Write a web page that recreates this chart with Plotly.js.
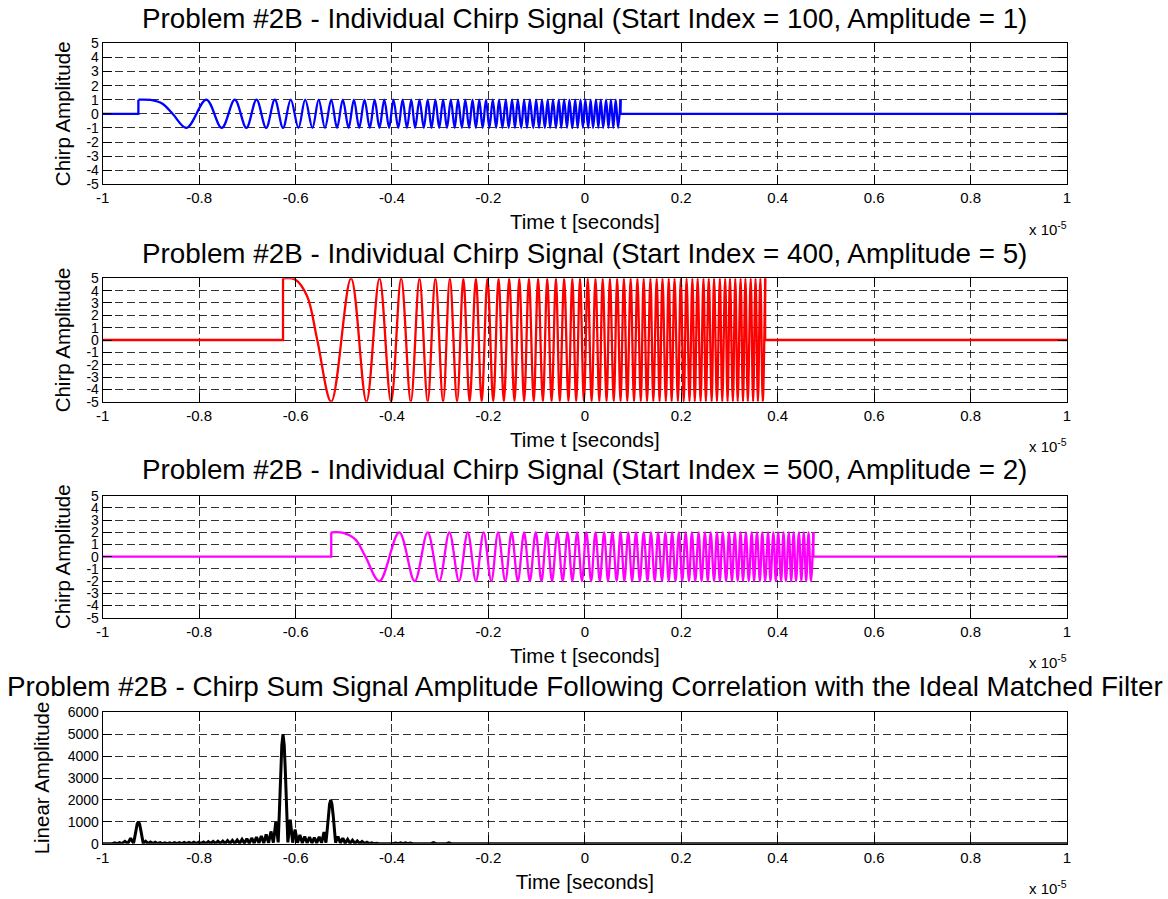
<!DOCTYPE html>
<html>
<head>
<meta charset="utf-8">
<script src="https://cdn.plot.ly/plotly-3.0.1.min.js"></script>
<style>html,body{margin:0;padding:0;background:#fff;}#plot{width:1168px;height:899px;}</style>
</head>
<body>
<div id="plot"></div>
<script>
// ---------- data ----------
const startIndex = [100, 400, 500];
const chirpStart = [-0.926, -0.626, -0.526];   // x 1e-5 s
const chirpAmp = [1, 5, 2];

// time offsets (from chirp start, x 1e-5 s) of the chirp's shape points: start plateau, then successive peaks/troughs
const chirpOffsets = [
  0, 0.025, 0.05, 0.071,
  0.1, 0.141, 0.173, 0.2, 0.224, 0.245, 0.265, 0.283, 0.3, 0.316,
  0.332, 0.346, 0.361, 0.374, 0.387, 0.4, 0.412, 0.424, 0.436, 0.447,
  0.458, 0.469, 0.480, 0.490, 0.5, 0.510, 0.520, 0.529, 0.539, 0.548,
  0.557, 0.566, 0.574, 0.583, 0.592, 0.6, 0.608, 0.616, 0.624, 0.632,
  0.640, 0.648, 0.656, 0.663, 0.671, 0.678, 0.686, 0.693, 0.7, 0.707,
  0.714, 0.721, 0.728, 0.735, 0.742, 0.748, 0.755, 0.762, 0.768, 0.775,
  0.781, 0.787, 0.794, 0.8, 0.806, 0.812, 0.819, 0.825, 0.831, 0.837,
  0.843, 0.849, 0.854, 0.860, 0.866, 0.872, 0.877, 0.883, 0.889, 0.894,
  0.9, 0.906, 0.911, 0.917, 0.922, 0.927, 0.933, 0.938, 0.943, 0.949,
  0.954, 0.959, 0.964, 0.970, 0.975, 0.980, 0.985, 0.990, 0.995, 1.0
];
// normalised chirp level at those points (multiplied by each chirp's amplitude)
const chirpShape = [
  1, 0.98, 0.71, 0,
  -1, 1, -1, 1, -1, 1, -1, 1, -1, 1,
  -1, 1, -1, 1, -1, 1, -1, 1, -1, 1,
  -1, 1, -1, 1, -1, 1, -1, 1, -1, 1,
  -1, 1, -1, 1, -1, 1, -1, 1, -1, 1,
  -1, 1, -1, 1, -1, 1, -1, 1, -1, 1,
  -1, 1, -1, 1, -1, 1, -1, 1, -1, 1,
  -1, 1, -1, 1, -1, 1, -1, 1, -1, 1,
  -1, 1, -1, 1, -1, 1, -1, 1, -1, 1,
  -1, 1, -1, 1, -1, 1, -1, 1, -1, 1,
  -1, 1, -1, 1, -1, 1, -1, 1, -1, 1
];

// matched-filter output (|correlation|) of the chirp sum
const corrTime = [
  -1.000, -0.990, -0.985, -0.980, -0.975, -0.970, -0.965, -0.960, -0.954, -0.948,
  -0.942, -0.936, -0.9335, -0.931, -0.9285, -0.926, -0.9235, -0.921, -0.9185, -0.916,
  -0.911, -0.906, -0.901, -0.896, -0.891, -0.886, -0.881, -0.876, -0.871, -0.866,
  -0.861, -0.856, -0.851, -0.846, -0.841, -0.836, -0.831, -0.826, -0.821, -0.816,
  -0.811, -0.806, -0.801, -0.796, -0.791, -0.786, -0.781, -0.776, -0.771, -0.766,
  -0.761, -0.756, -0.751, -0.746, -0.741, -0.736, -0.731, -0.726, -0.721, -0.716,
  -0.711, -0.706, -0.701, -0.696, -0.691, -0.686, -0.681, -0.676, -0.671, -0.666,
  -0.661, -0.656, -0.651, -0.646, -0.641, -0.636, -0.6335, -0.631, -0.6285, -0.626,
  -0.6235, -0.621, -0.6185, -0.616, -0.611, -0.606, -0.601, -0.596, -0.591, -0.586,
  -0.581, -0.576, -0.571, -0.566, -0.561, -0.556, -0.551, -0.546, -0.541, -0.537,
  -0.5345, -0.532, -0.5295, -0.527, -0.5245, -0.522, -0.5195, -0.517, -0.512, -0.507,
  -0.502, -0.497, -0.492, -0.487, -0.482, -0.477, -0.472, -0.467, -0.462, -0.457,
  -0.452, -0.447, -0.442, -0.437, -0.432, -0.427, -0.400, -0.392, -0.387, -0.382,
  -0.377, -0.372, -0.367, -0.362, -0.357, -0.319, -0.314, -0.309, -0.287, -0.282,
  -0.277, 1.000
];
const corrAmp = [
  0, 0, 20, 0, 40, 5, 50, 5, 110, 10,
  250, 20, 300, 620, 900, 1000, 900, 620, 300, 20,
  110, 10, 80, 5, 70, 5, 50, 5, 40, 5,
  40, 5, 50, 5, 50, 5, 60, 5, 60, 5,
  70, 5, 70, 5, 80, 5, 90, 10, 100, 10,
  110, 10, 120, 10, 140, 15, 150, 15, 170, 15,
  200, 20, 230, 20, 260, 25, 300, 30, 350, 30,
  420, 40, 560, 50, 1000, 60, 1500, 3200, 4500, 5000,
  4500, 3200, 1500, 60, 1100, 50, 650, 40, 400, 30,
  330, 30, 300, 30, 280, 30, 320, 40, 530, 50,
  600, 1300, 1800, 2000, 1800, 1300, 600, 50, 330, 30,
  250, 20, 200, 15, 160, 10, 130, 10, 100, 5,
  70, 5, 40, 0, 20, 0, 0, 30, 0, 40,
  0, 40, 0, 30, 0, 0, 50, 0, 0, 40,
  0, 0
];

// tick labels
const xTickVals = [-1, -0.8, -0.6, -0.4, -0.2, 0, 0.2, 0.4, 0.6, 0.8, 1];
const xTickText = ['-1', '-0.8', '-0.6', '-0.4', '-0.2', '0', '0.2', '0.4', '0.6', '0.8', '1'];
const yChirpTickVals = [-5, -4, -3, -2, -1, 0, 1, 2, 3, 4, 5];
const yChirpTickText = ['-5', '-4', '-3', '-2', '-1', '0', '1', '2', '3', '4', '5'];
const yCorrTickVals = [0, 1000, 2000, 3000, 4000, 5000, 6000];
const yCorrTickText = ['0', '1000', '2000', '3000', '4000', '5000', '6000'];

// ---------- styling / layout ----------
const W = 1168, H = 899;
const FONT = 'Liberation Sans, Arial, Helvetica, sans-serif';
const colors = ['#0000ff', '#ff0000', '#ff00ff'];
const xLeft = 102.7, xRight = 1067;
const panels = [ // [top, bottom] pixels
  [43.3, 184.3], [278.3, 401.7], [495.7, 617.7], [712.3, 843.7]
];
const titleBase = [28.3, 263.3, 479.3, 696];
const px = v => v / W, py = v => 1 - v / H;
const TITLE_SIZE = 27.8, AXT_SIZE = 20.5, TICK_SIZE = 15, YTICK_SIZE = 14;

const traces = [];
const layout = {
  width: W, height: H,
  margin: {l: 0, r: 0, t: 0, b: 0},
  paper_bgcolor: '#fff', plot_bgcolor: '#fff',
  showlegend: false,
  font: {family: FONT, color: '#000', size: TICK_SIZE},
  annotations: []
};

function axisX(i, title) {
  return {
    domain: [px(xLeft), px(xRight)], anchor: 'y' + (i === 0 ? '' : i + 1),
    range: [-1, 1], tickmode: 'array', tickvals: xTickVals, ticktext: xTickText,
    ticks: 'inside', ticklen: 9, tickwidth: 1, tickcolor: '#000',
    showline: true, linecolor: '#000', linewidth: 1, mirror: 'ticks',
    showgrid: true, gridcolor: 'rgba(0,0,0,0.8)', gridwidth: 1, griddash: '8px,4px',
    zeroline: false, tickfont: {size: TICK_SIZE, family: FONT, color: '#000'},
    title: {text: title, font: {size: AXT_SIZE, family: FONT, color: '#000'}, standoff: 9},
    automargin: false, fixedrange: true
  };
}
function axisY(i, range, vals, text, title, standoff) {
  const [t, b] = panels[i];
  return {
    domain: [py(b), py(t)], anchor: 'x' + (i === 0 ? '' : i + 1),
    range: range, tickmode: 'array', tickvals: vals, ticktext: text,
    ticks: 'inside', ticklen: 9, tickwidth: 1, tickcolor: '#000',
    showline: true, linecolor: '#000', linewidth: 1, mirror: 'ticks',
    showgrid: true, gridcolor: 'rgba(0,0,0,0.8)', gridwidth: 1, griddash: '8px,4px',
    zeroline: false, tickfont: {size: YTICK_SIZE, family: FONT, color: '#000'},
    title: {text: title, font: {size: AXT_SIZE, family: FONT, color: '#000'}, standoff: standoff},
    automargin: false, fixedrange: true
  };
}

for (let i = 0; i < 3; i++) {
  const s = chirpStart[i], A = chirpAmp[i];
  const xa = 'x' + (i === 0 ? '' : i + 1), ya = 'y' + (i === 0 ? '' : i + 1);
  const dur = chirpOffsets[chirpOffsets.length - 1];
  const lastLevel = A * chirpShape[chirpShape.length - 1];
  // zero level before / after the chirp, with the switch-on and switch-off steps
  traces.push({
    type: 'scatter', mode: 'lines', xaxis: xa, yaxis: ya, hoverinfo: 'skip',
    x: [-1, s, s, null, s + dur, s + dur, 1],
    y: [0, 0, A * chirpShape[0], null, lastLevel, 0, 0],
    line: {color: colors[i], width: 2.3}
  });
  traces.push({
    type: 'scatter', mode: 'lines', xaxis: xa, yaxis: ya, hoverinfo: 'skip',
    x: chirpOffsets.map(o => s + o),
    y: chirpShape.map(v => A * v),
    line: {color: colors[i], width: 2.3, shape: 'spline', smoothing: 1}
  });
  layout['xaxis' + (i === 0 ? '' : i + 1)] = axisX(i, 'Time t [seconds]');
  layout['yaxis' + (i === 0 ? '' : i + 1)] = axisY(i, [-5, 5], yChirpTickVals, yChirpTickText, 'Chirp Amplitude', 10);
  layout.annotations.push({
    xref: 'paper', yref: 'paper', x: px((xLeft + xRight) / 2), y: py(titleBase[i] - 9.5),
    xanchor: 'center', yanchor: 'middle', showarrow: false,
    text: 'Problem #2B - Individual Chirp Signal (Start Index = ' + startIndex[i] + ', Amplitude = ' + chirpAmp[i] + ')',
    font: {size: TITLE_SIZE, family: FONT, color: '#000'}
  });
}

traces.push({
  type: 'scatter', mode: 'lines', xaxis: 'x4', yaxis: 'y4', hoverinfo: 'skip',
  x: corrTime, y: corrAmp, line: {color: '#000', width: 3}
});
layout.xaxis4 = axisX(3, 'Time [seconds]');
layout.yaxis4 = axisY(3, [0, 6000], yCorrTickVals, yCorrTickText, 'Linear Amplitude', 12);
layout.annotations.push({
  xref: 'paper', yref: 'paper', x: px((xLeft + xRight) / 2), y: py(titleBase[3] - 9.5),
  xanchor: 'center', yanchor: 'middle', showarrow: false,
  text: 'Problem #2B - Chirp Sum Signal Amplitude Following Correlation with the Ideal Matched Filter',
  font: {size: TITLE_SIZE, family: FONT, color: '#000'}
});

// axis exponent labels
for (let i = 0; i < 4; i++) {
  layout.annotations.push({
    xref: 'paper', yref: 'paper', x: px(xRight + 2), y: py(panels[i][1] + 44),
    xanchor: 'right', yanchor: 'middle', showarrow: false,
    text: 'x 10<sup>-5</sup>', font: {size: 15, family: FONT, color: '#000'}
  });
}

Plotly.newPlot('plot', traces, layout, {staticPlot: true, displayModeBar: false});
</script>
</body>
</html>
